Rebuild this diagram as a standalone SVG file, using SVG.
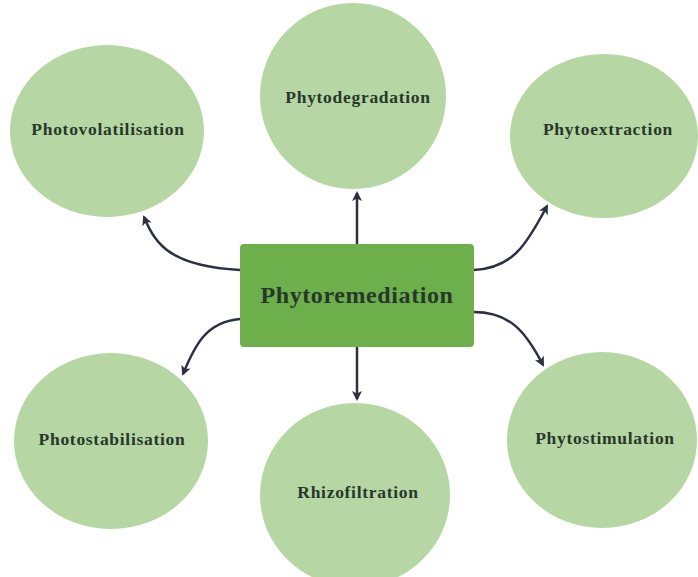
<svg xmlns="http://www.w3.org/2000/svg" width="698" height="577" viewBox="0 0 698 577">
<style>
.c{fill:#b6d6a3}
.t{font-family:"Liberation Serif","DejaVu Serif",serif;font-weight:bold;fill:#27382b;text-anchor:middle}
.s{font-size:17.5px;letter-spacing:0.7px}
.m{font-size:24px;letter-spacing:0.6px}
.a{fill:none;stroke:#2a3140;stroke-width:2.5;marker-end:url(#ah)}
</style>
<defs>
<marker id="ah" viewBox="0 0 10 10" refX="8" refY="5" markerWidth="4" markerHeight="4" orient="auto" markerUnits="strokeWidth">
<path d="M0,0 L10,5 L0,10 L2.5,5 Z" fill="#2a3140"/>
</marker>
</defs>
<rect width="698" height="577" fill="#ffffff"/>
<g id="connectors">
<path class="a" d="M357,244 L357,193"/>
<path class="a" d="M357,347 L357,399"/>
<path class="a" d="M240,270 C172,266 156,246 144,217"/>
<path class="a" d="M474,270 C512,268 526,246 547,206"/>
<path class="a" d="M240,319 C206,322 195,345 183,374"/>
<path class="a" d="M474,312 C510,312 526,332 543,365"/>
</g>
<g id="photovolatilisation"><ellipse class="c" cx="107" cy="131" rx="97" ry="86"/><text class="t s" x="108" y="135">Photovolatilisation</text></g>
<g id="phytodegradation"><ellipse class="c" cx="353" cy="96" rx="93" ry="93"/><text class="t s" x="358" y="103">Phytodegradation</text></g>
<g id="phytoextraction"><ellipse class="c" cx="604" cy="136" rx="94" ry="82"/><text class="t s" x="608" y="135">Phytoextraction</text></g>
<g id="photostabilisation"><ellipse class="c" cx="111" cy="441" rx="97" ry="88"/><text class="t s" x="112" y="445">Photostabilisation</text></g>
<g id="rhizofiltration"><ellipse class="c" cx="355" cy="495" rx="95" ry="92"/><text class="t s" x="358" y="498">Rhizofiltration</text></g>
<g id="phytostimulation"><ellipse class="c" cx="602" cy="440" rx="95" ry="88"/><text class="t s" x="605" y="444">Phytostimulation</text></g>
<g id="phytoremediation"><rect x="240" y="244" width="234" height="103" rx="4" fill="#6db04b"/><text class="t m" x="357" y="303">Phytoremediation</text></g>
</svg>
